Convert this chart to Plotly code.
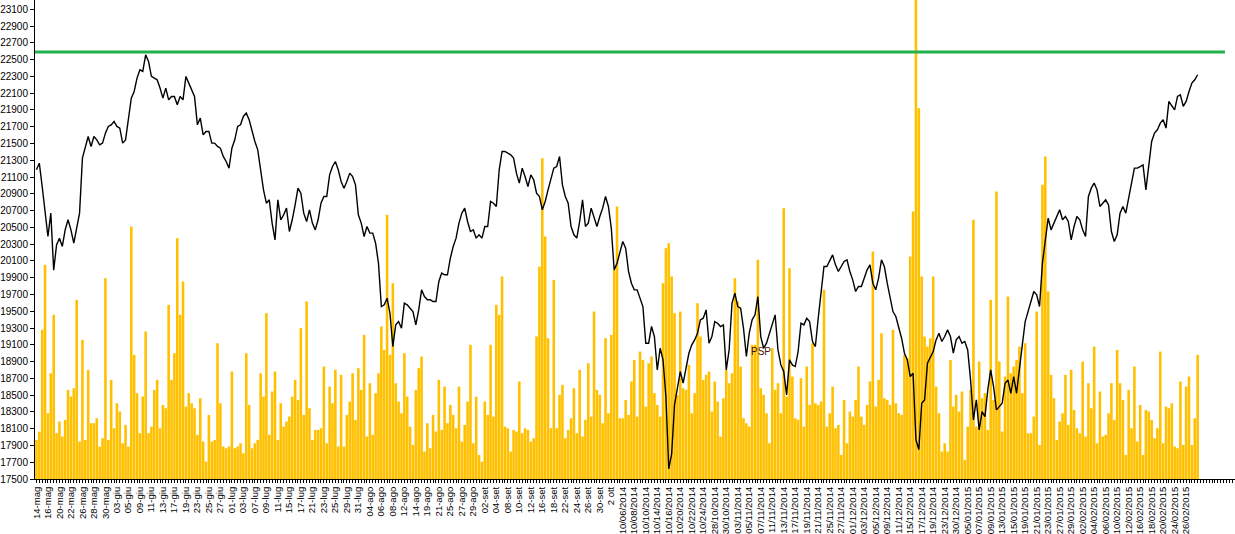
import plotly.graph_objects as go

# ---- data ----
tick_labels = [
    "14-mag", "16-mag", "20-mag", "22-mag", "26-mag", "28-mag", "30-mag", "03-giu", "05-giu", "09-giu",
    "11-giu", "13-giu", "17-giu", "19-giu", "23-giu", "25-giu", "27-giu", "01-lug", "03-lug", "07-lug",
    "09-lug", "11-lug", "15-lug", "17-lug", "21-lug", "23-lug", "25-lug", "29-lug", "31-lug", "04-ago",
    "06-ago", "08-ago", "12-ago", "14-ago", "19-ago", "21-ago", "25-ago", "27-ago", "29-ago", "02-set",
    "04-set", "08-set", "10-set", "12-set", "16-set", "18-set", "22-set", "24-set", "26-set", "30-set",
    "2 ott", "10/06/2014", "10/08/2014", "10/10/2014", "10/14/2014", "10/16/2014", "10/20/2014", "10/22/2014", "10/24/2014", "28/10/2014",
    "30/10/2014", "03/11/2014", "05/11/2014", "07/11/2014", "11/11/2014", "13/11/2014", "17/11/2014", "19/11/2014", "21/11/2014", "25/11/2014",
    "27/11/2014", "01/12/2014", "03/12/2014", "05/12/2014", "09/12/2014", "11/12/2014", "15/12/2014", "17/12/2014", "19/12/2014", "23/12/2014",
    "30/12/2014", "05/01/2015", "07/01/2015", "09/01/2015", "13/01/2015", "15/01/2015", "19/01/2015", "21/01/2015", "23/01/2015", "27/01/2015",
    "29/01/2015", "02/02/2015", "04/02/2015", "06/02/2015", "10/02/2015", "12/02/2015", "16/02/2015", "18/02/2015", "20/02/2015", "24/02/2015",
    "26/02/2015",
]
points_per_label = 4

price = [
    21186, 21265, 20987, 20669, 20391, 20669, 19990, 20291, 20371, 20272,
    20470, 20590, 20470, 20311, 20470, 20669, 21325, 21444, 21583, 21464,
    21583, 21543, 21484, 21504, 21623, 21703, 21722, 21762, 21703, 21683,
    21504, 21543, 21782, 22040, 22120, 22279, 22378, 22358, 22557, 22478,
    22299, 22279, 22259, 22160, 22040, 22160, 22020, 22060, 22060, 21961,
    22060, 22020, 22299, 22219, 22140, 22060, 21722, 21802, 21603, 21643,
    21643, 21504, 21504, 21464, 21444, 21345, 21285, 21206, 21444, 21543,
    21703, 21722, 21822, 21862, 21782, 21643, 21524, 21424, 21166, 20947,
    20788, 20828, 20550, 20351, 20828, 20590, 20649, 20729, 20450, 20590,
    20768, 20967, 20908, 20669, 20570, 20709, 20550, 20470, 20590, 20788,
    20868, 20868, 21126, 21225, 21285, 21186, 21047, 20967, 21047, 21146,
    21106, 21007, 20649, 20550, 20391, 20510, 20431, 20431, 20311, 20073,
    19556, 19576, 19655, 19476, 19079, 19337, 19377, 19298, 19596, 19576,
    19536, 19496, 19337, 19516, 19755, 19675, 19636, 19636, 19616, 19616,
    19854, 19954, 19934, 19934, 20132, 20272, 20371, 20550, 20669, 20729,
    20570, 20450, 20470, 20371, 20411, 20371, 20510, 20510, 20808, 20788,
    20749, 21186, 21404, 21404, 21384, 21365, 21325, 21146, 21027, 21206,
    21106, 20987, 21126, 21067, 20908, 20868, 20709, 20808, 20947, 21086,
    21206, 21225, 21345, 21007, 20868, 20788, 20510, 20411, 20371, 20570,
    20828, 20510, 20550, 20729, 20609, 20510, 20629, 20729, 20868, 20749,
    20490, 19993, 20073, 20192, 20331, 20252, 19974, 19834, 19755, 19755,
    19655, 19556, 19119, 19119, 19318, 19198, 18801, 19059, 18920, 18483,
    17620, 17800, 18384, 18562, 18781, 18642, 18801, 18999, 19099, 19158,
    19238, 19397, 19417, 19516, 19119, 19198, 19377, 19357, 19318, 19337,
    18801, 19039, 19596, 19715, 19556, 19536, 19298, 18960, 19238, 19397,
    19457, 19675, 19198, 19059, 19119, 19238, 19337, 19457, 19039, 18860,
    18781, 18503, 18920, 18860, 18841, 19019, 19357, 19337, 19417, 19377,
    19139, 19079, 19417, 19695, 20033, 20033, 20113, 20172, 20053, 19974,
    20033, 20093, 20113, 19974, 19874, 19735, 19795, 19795, 19894, 19993,
    20053, 19834, 19755, 19894, 20113, 20033, 19834, 19655, 19496, 19437,
    19318, 19178, 19000, 18920, 18721, 18761, 17966, 17850, 18403, 18443,
    18880, 18960, 19019, 19158, 19238, 19139, 19198, 19278, 19198, 19000,
    19158, 19198, 19119, 19139, 19039, 18681, 18204, 18443, 18085, 18304,
    18244, 18562, 18801, 18602, 18324, 18363, 18403, 18642, 18681, 18522,
    18721, 18522, 18840, 19099, 19377, 19496, 19616, 19735, 19695, 19556,
    20073, 20311, 20609, 20470, 20550, 20629, 20709, 20590, 20629, 20570,
    20351, 20510, 20629, 20590, 20470, 20391, 20868, 20967, 21027, 20947,
    20749, 20788, 20828, 20768, 20450, 20331, 20411, 20669, 20749, 20669,
    20828, 21027, 21206, 21206, 21225, 21245, 20947, 21245, 21524, 21623,
    21663, 21742, 21782, 21683, 22001, 21949, 21901, 22060, 22080, 21941,
    22001, 22120, 22219, 22259, 22319,
]

volume_scaled = [
    17966, 18065, 19278, 20053, 18284, 18761, 19457, 18046, 18185, 18006,
    18205, 18562, 18483, 18582, 19636, 17946, 19159, 17966, 18801, 18165,
    18165, 18224, 17887, 17986, 19894, 17966, 18682, 18105, 18403, 18304,
    17926, 18145, 17887, 20510, 18980, 18523, 18046, 18483, 19258, 18046,
    18125, 18562, 18682, 18105, 18383, 18344, 19576, 18682, 19000, 20371,
    19457, 19854, 18364, 18523, 18403, 18344, 18026, 18463, 17946, 17707,
    18264, 17946, 17966, 19119, 18403, 17887, 17867, 17887, 18781, 17867,
    17887, 17926, 17807, 19000, 18383, 17867, 17926, 17966, 18761, 18483,
    19477, 18026, 18543, 18781, 17966, 18403, 18125, 18185, 18244, 18483,
    18682, 18443, 19298, 18264, 19616, 18344, 17966, 18085, 18085, 18105,
    18841, 17926, 18602, 18403, 18801, 17887, 18741, 17887, 18264, 18423,
    18761, 18205, 18821, 18562, 19218, 18006, 18642, 18026, 18523, 18761,
    19318, 19039, 20649, 18980, 19834, 18642, 18423, 18284, 19000, 18483,
    18125, 17906, 18562, 18821, 18960, 17827, 18165, 17867, 18264, 18066,
    18682, 18085, 18602, 18165, 18383, 18264, 18105, 18602, 17946, 18145,
    18423, 19099, 17926, 18483, 17787, 17707, 18423, 18264, 19099, 18244,
    19576, 19457, 19914, 18125, 18105, 17827, 18085, 18066, 18662, 18046,
    18105, 18085, 17946, 17986, 19200, 20033, 21325, 20391, 19178, 18105,
    19874, 18105, 18503, 18622, 17986, 18085, 18224, 18582, 18046, 18801,
    18006, 18205, 18880, 18244, 19496, 18562, 18503, 18165, 19178, 18284,
    19218, 19993, 20749, 18224, 18224, 18443, 18264, 18662, 18920, 18244,
    19019, 18920, 18364, 18880, 18960, 18523, 18383, 18244, 19834, 20252,
    20311, 19914, 19477, 18503, 19496, 18582, 18562, 18860, 18284, 18523,
    19596, 19198, 18682, 18741, 18781, 18304, 18662, 18423, 18006, 18463,
    18801, 18642, 18761, 19894, 19616, 18841, 18224, 18165, 18125, 19099,
    19099, 20113, 18582, 18503, 18284, 17926, 19059, 18562, 18642, 18284,
    20729, 18483, 20013, 18721, 18224, 18205, 18702, 18125, 18841, 18383,
    19119, 18403, 18383, 18423, 19755, 18125, 18284, 18602, 18105, 18145,
    17787, 18443, 17926, 18304, 18244, 18443, 18841, 18244, 18145, 18383,
    18662, 20212, 18364, 18682, 19238, 18463, 18443, 18383, 19278, 18403,
    18284, 18264, 18980, 18940, 20152, 20689, 23400, 21921, 19914, 19198,
    19079, 19178, 19914, 18602, 18284, 17827, 17926, 17827, 18920, 18364,
    18503, 18304, 18543, 17728, 18125, 18562, 20590, 18125, 18900, 18463,
    18523, 18085, 19636, 18443, 20927, 18900, 18066, 18721, 19675, 18761,
    18841, 18920, 19079, 18523, 19119, 18046, 18046, 18244, 19496, 17906,
    21007, 21345, 19735, 18741, 18463, 17966, 18185, 18284, 18741, 18145,
    18801, 18324, 18105, 18046, 18900, 18006, 18642, 18344, 19079, 17926,
    18543, 18006, 18026, 18284, 18642, 18205, 19039, 18642, 18443, 17787,
    18562, 18105, 18841, 17946, 18383, 17787, 18324, 18304, 18205, 17986,
    18105, 19019, 17926, 18364, 18344, 18403, 17887, 17867, 18662, 17906,
    18602, 18721, 17906, 18224, 18980,
]

target_level = 22590
axis_min, axis_max = 17500, 23210
y_ticks = list(range(17500, 23101, 200))
note_text = "PSP"
note_index, note_value = 252, 19015
green_end_index = 413.5
x_axis_end = 417

# ---- figure ----
x_idx = list(range(len(price)))
tick_positions = [i * points_per_label for i in range(len(tick_labels))]
font_family = "Arial, Liberation Sans, sans-serif"

fig = go.Figure()
fig.add_trace(go.Bar(
    x=x_idx, y=[v - axis_min for v in volume_scaled], base=axis_min,
    marker=dict(color="#FFC000", line=dict(width=0)),
    hoverinfo="skip", showlegend=False,
))
fig.add_trace(go.Scatter(
    x=x_idx, y=price, mode="lines",
    line=dict(color="#000000", width=1.4),
    showlegend=False,
))
fig.add_shape(type="line", xref="x", yref="y",
              x0=-0.5, x1=green_end_index, y0=target_level, y1=target_level,
              line=dict(color="#22B14C", width=3))
fig.add_annotation(x=note_index, y=note_value, text=note_text, showarrow=False,
                   font=dict(family=font_family, size=10, color="#4a1414"))

fig.update_layout(
    template="none",
    width=1235, height=534,
    margin=dict(l=35, r=0, t=0, b=55, pad=0),
    paper_bgcolor="white", plot_bgcolor="white",
    bargap=0.1,
    font=dict(family=font_family, size=10, color="#000000"),
    xaxis=dict(
        automargin=False,
        range=[-0.5, x_axis_end],
        tickmode="array", tickvals=tick_positions, ticktext=tick_labels,
        tickangle=-90, ticks="outside", ticklen=3, tickcolor="#000",
        showline=True, linecolor="#000", linewidth=1,
        showgrid=False, zeroline=False,
        tickfont=dict(family=font_family, size=9.5, color="#000"),
        minor=dict(tickmode="linear", tick0=0, dtick=1, ticks="outside",
                   ticklen=3, tickcolor="#000", tickwidth=1, showgrid=False),
    ),
    yaxis=dict(
        automargin=False,
        range=[axis_min, axis_max],
        tickmode="array", tickvals=y_ticks, ticktext=[str(v) for v in y_ticks],
        ticks="outside", ticklen=4, tickcolor="#000",
        showline=True, linecolor="#000", linewidth=1,
        showgrid=False, zeroline=False,
        tickfont=dict(family=font_family, size=10, color="#000"),
    ),
)

fig.write_html("out.html", config={"displayModeBar": False},
               post_script="document.body.style.margin='0px';")
